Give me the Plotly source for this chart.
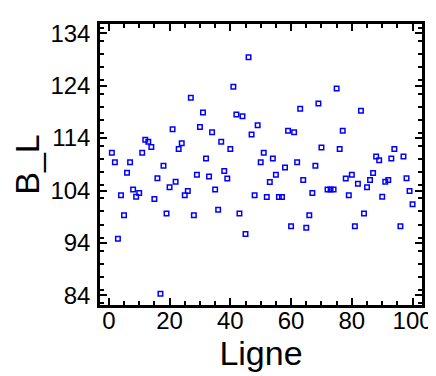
import plotly.graph_objects as go

ligne = list(range(1, 71)) + list(range(72, 95)) + list(range(96, 101))
b_l = [
    111.2, 109.4, 94.8, 103.1, 99.3, 107.4, 109.4, 104.2, 102.8, 103.5,
    111.2, 113.7, 113.3, 112.3, 102.4, 106.35, 84.3, 108.7, 99.6, 104.6,
    115.7, 105.65, 111.9, 113.0, 103.1, 103.9, 121.7, 99.3, 107.0, 116.1,
    118.9, 110.1, 106.65, 115.1, 104.2, 100.35, 113.3, 107.7, 106.3, 111.9,
    123.8, 118.5, 99.6, 118.15, 95.7, 129.4, 114.7, 103.1, 116.45, 109.4,
    111.2, 102.75, 105.6, 110.1, 107.0, 102.75, 102.75, 108.4, 115.4, 97.2,
    115.1, 109.4, 119.6, 106.0, 96.9, 99.3, 103.5, 108.7, 120.6, 112.2,
    104.2, 104.2, 104.2, 123.45, 111.9, 115.4, 106.3, 103.1, 107.0, 97.2,
    105.3, 119.2, 99.6, 104.6, 106.0, 107.35, 110.5, 109.75, 102.8, 105.65,
    106.0, 110.1, 111.9,
    97.2, 110.5, 106.35, 103.9, 101.4,
]

fig = go.Figure(go.Scatter(
    x=ligne, y=b_l, mode="markers",
    marker=dict(symbol="square-open", size=4.5, color="#0000FF",
                line=dict(width=1.5, color="#0000FF")),
    showlegend=False,
))

axis_common = dict(
    showline=True, linewidth=2.5, linecolor="black", mirror="allticks",
    ticks="inside", ticklen=7, tickwidth=2, tickcolor="black",
    showgrid=False, zeroline=False,
    tickfont=dict(family="Liberation Sans, Arial", size=24, color="black"),
)

fig.update_xaxes(
    range=[-2.9, 103.1], tick0=0, dtick=20,
    minor=dict(dtick=5, ticks="inside", ticklen=4, tickwidth=1.5, tickcolor="black"),
    ticklabelstandoff=-8,
    title=dict(text="Ligne", font=dict(family="Liberation Sans, Arial", size=34, color="black"), standoff=2),
    **axis_common,
)
fig.update_yaxes(
    range=[82.16, 135.76], tick0=84, dtick=10,
    minor=dict(dtick=2.5, ticks="inside", ticklen=4, tickwidth=1.5, tickcolor="black"),
    ticklabelstandoff=2,
    title=dict(text="B_L", font=dict(family="Liberation Sans, Arial", size=34, color="black"), standoff=2),
    **axis_common,
)

fig.update_layout(
    width=436, height=376,
    margin=dict(l=92, r=13, t=14, b=79),
    plot_bgcolor="white", paper_bgcolor="white",
)

fig.write_html("out.html")
